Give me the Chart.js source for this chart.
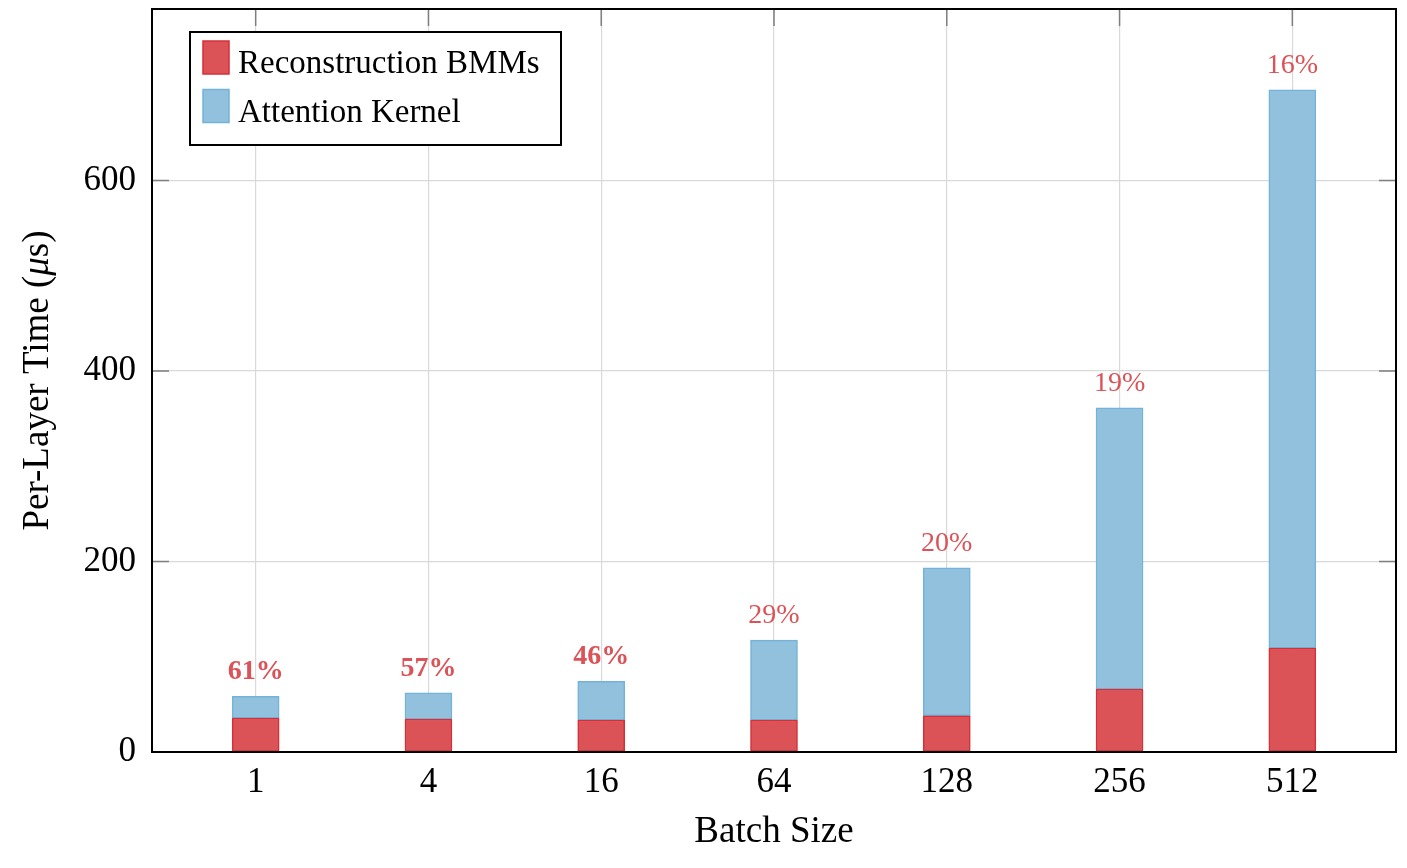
<!DOCTYPE html>
<html>
<head>
<meta charset="utf-8">
<script src="https://cdn.jsdelivr.net/npm/chart.js@4.4.1/dist/chart.umd.min.js"></script>
<style>
  html, body { margin: 0; padding: 0; background: #fff; }
  #wrap { width: 1407px; height: 868px; position: relative; }
</style>
</head>
<body>
<div id="wrap"><canvas id="c"></canvas></div>
<script>
const batchSizes = ['1', '4', '16', '64', '128', '256', '512'];
const reconTime = [35.7, 34.6, 33.6, 33.6, 38.1, 66.1, 109.2];
const attnTime = [22.8, 27.4, 40.7, 83.9, 155.2, 295.3, 586];
const pctLabels = ['61%', '57%', '46%', '29%', '20%', '19%', '16%'];
const pctBold = [true, true, true, false, false, false, false];
const yTicks = [0, 200, 400, 600];

const SERIF = '"Liberation Serif", "DejaVu Serif", serif';
const RED = '#db5257', RED_EDGE = '#d62f36';
const BLUE = '#92c1de', BLUE_EDGE = '#74b3d9';

// frame, inner tick marks, percentage labels, legend, axis titles
const decor = {
  id: 'decor',
  afterDatasetsDraw(chart) {
    const { ctx, chartArea: a, scales: { x, y } } = chart;
    ctx.save();

    // percent labels over each bar
    ctx.fillStyle = RED;
    ctx.textAlign = 'center';
    ctx.textBaseline = 'alphabetic';
    batchSizes.forEach((_, i) => {
      const top = y.getPixelForValue(reconTime[i] + attnTime[i]);
      ctx.font = (pctBold[i] ? 'bold ' : '') + '28px ' + SERIF;
      ctx.fillText(pctLabels[i], x.getPixelForValue(i), top - 17);
    });

    // inner ticks (bottom ones are hidden under the bars in the original)
    ctx.strokeStyle = '#7f7f7f';
    ctx.lineWidth = 1.5;
    ctx.beginPath();
    batchSizes.forEach((_, i) => {
      const px = x.getPixelForValue(i);
      ctx.moveTo(px, a.top); ctx.lineTo(px, a.top + 17);
    });
    yTicks.forEach(v => {
      const py = y.getPixelForValue(v);
      ctx.moveTo(a.left, py); ctx.lineTo(a.left + 17, py);
      ctx.moveTo(a.right, py); ctx.lineTo(a.right - 17, py);
    });
    ctx.stroke();

    // frame
    ctx.strokeStyle = '#000';
    ctx.lineWidth = 2;
    ctx.strokeRect(a.left, a.top, a.right - a.left, a.bottom - a.top);

    // legend
    const lx = 190, ly = 32, lw = 371, lh = 113;
    ctx.fillStyle = '#fff';
    ctx.fillRect(lx, ly, lw, lh);
    ctx.strokeRect(lx, ly, lw, lh);
    const entries = [['Reconstruction BMMs', RED, RED_EDGE], ['Attention Kernel', BLUE, BLUE_EDGE]];
    entries.forEach(([txt, fill, edge], k) => {
      const sy = 41 + k * 48.5;
      ctx.fillStyle = fill;
      ctx.fillRect(203, sy, 26, 33);
      ctx.strokeStyle = edge;
      ctx.lineWidth = 1.5;
      ctx.strokeRect(203, sy, 26, 33);
      ctx.fillStyle = '#000';
      ctx.font = '33px ' + SERIF;
      ctx.textAlign = 'left';
      ctx.textBaseline = 'alphabetic';
      ctx.fillText(txt, 238, 73 + k * 49);
    });

    // x title
    ctx.fillStyle = '#000';
    ctx.textAlign = 'center';
    ctx.textBaseline = 'middle';
    ctx.font = '37px ' + SERIF;
    ctx.fillText('Batch Size', (a.left + a.right) / 2, 832);

    // y title with italic mu
    ctx.translate(38, (a.top + a.bottom) / 2);
    ctx.rotate(-Math.PI / 2);
    const parts = [['Per-Layer Time (', ''], ['\u03bc', 'italic '], ['s)', '']];
    let total = 0;
    parts.forEach(([t, st]) => { ctx.font = st + '37px ' + SERIF; total += ctx.measureText(t).width; });
    let cx = -total / 2;
    ctx.textAlign = 'left';
    parts.forEach(([t, st]) => {
      ctx.font = st + '37px ' + SERIF;
      ctx.fillText(t, cx, 0);
      cx += ctx.measureText(t).width;
    });
    ctx.restore();
  }
};

new Chart(document.getElementById('c'), {
  type: 'bar',
  data: {
    datasets: [
      {
        label: 'Reconstruction BMMs',
        data: reconTime.map((v, i) => ({ x: i, y: v })),
        backgroundColor: RED, borderColor: RED_EDGE, borderWidth: 1.5, borderSkipped: false
      },
      {
        label: 'Attention Kernel',
        data: attnTime.map((v, i) => ({ x: i, y: v })),
        backgroundColor: BLUE, borderColor: BLUE_EDGE, borderWidth: 1.5, borderSkipped: false
      }
    ]
  },
  options: {
    responsive: true,
    maintainAspectRatio: false,
    animation: false,
    barThickness: 47,
    layout: { padding: { top: 9, right: 11, left: 0, bottom: 0 } },
    plugins: { legend: { display: false }, tooltip: { enabled: false } },
    scales: {
      x: {
        type: 'linear', stacked: true, min: -0.6, max: 6.6, offset: false,
        afterBuildTicks: s => { s.ticks = batchSizes.map((_, i) => ({ value: i })); },
        afterFit: s => { s.height = 116; s.paddingLeft = 0; s.paddingRight = 0; },
        grid: { color: '#d9d9d9', lineWidth: 1.2, drawTicks: false, offset: false },
        border: { display: false },
        ticks: {
          callback: v => batchSizes[v], padding: 10, color: '#000',
          font: { family: SERIF, size: 35 }, maxRotation: 0, autoSkip: false
        }
      },
      y: {
        stacked: true, min: 0, max: 780,
        afterBuildTicks: s => { s.ticks = yTicks.map(v => ({ value: v })); },
        afterFit: s => { s.width = 152; s.paddingTop = 0; s.paddingBottom = 0; },
        grid: { color: '#d9d9d9', lineWidth: 1.2, drawTicks: false },
        border: { display: false },
        ticks: { padding: 16, color: '#000', font: { family: SERIF, size: 35 } }
      }
    }
  },
  plugins: [decor]
});
</script>
</body>
</html>
